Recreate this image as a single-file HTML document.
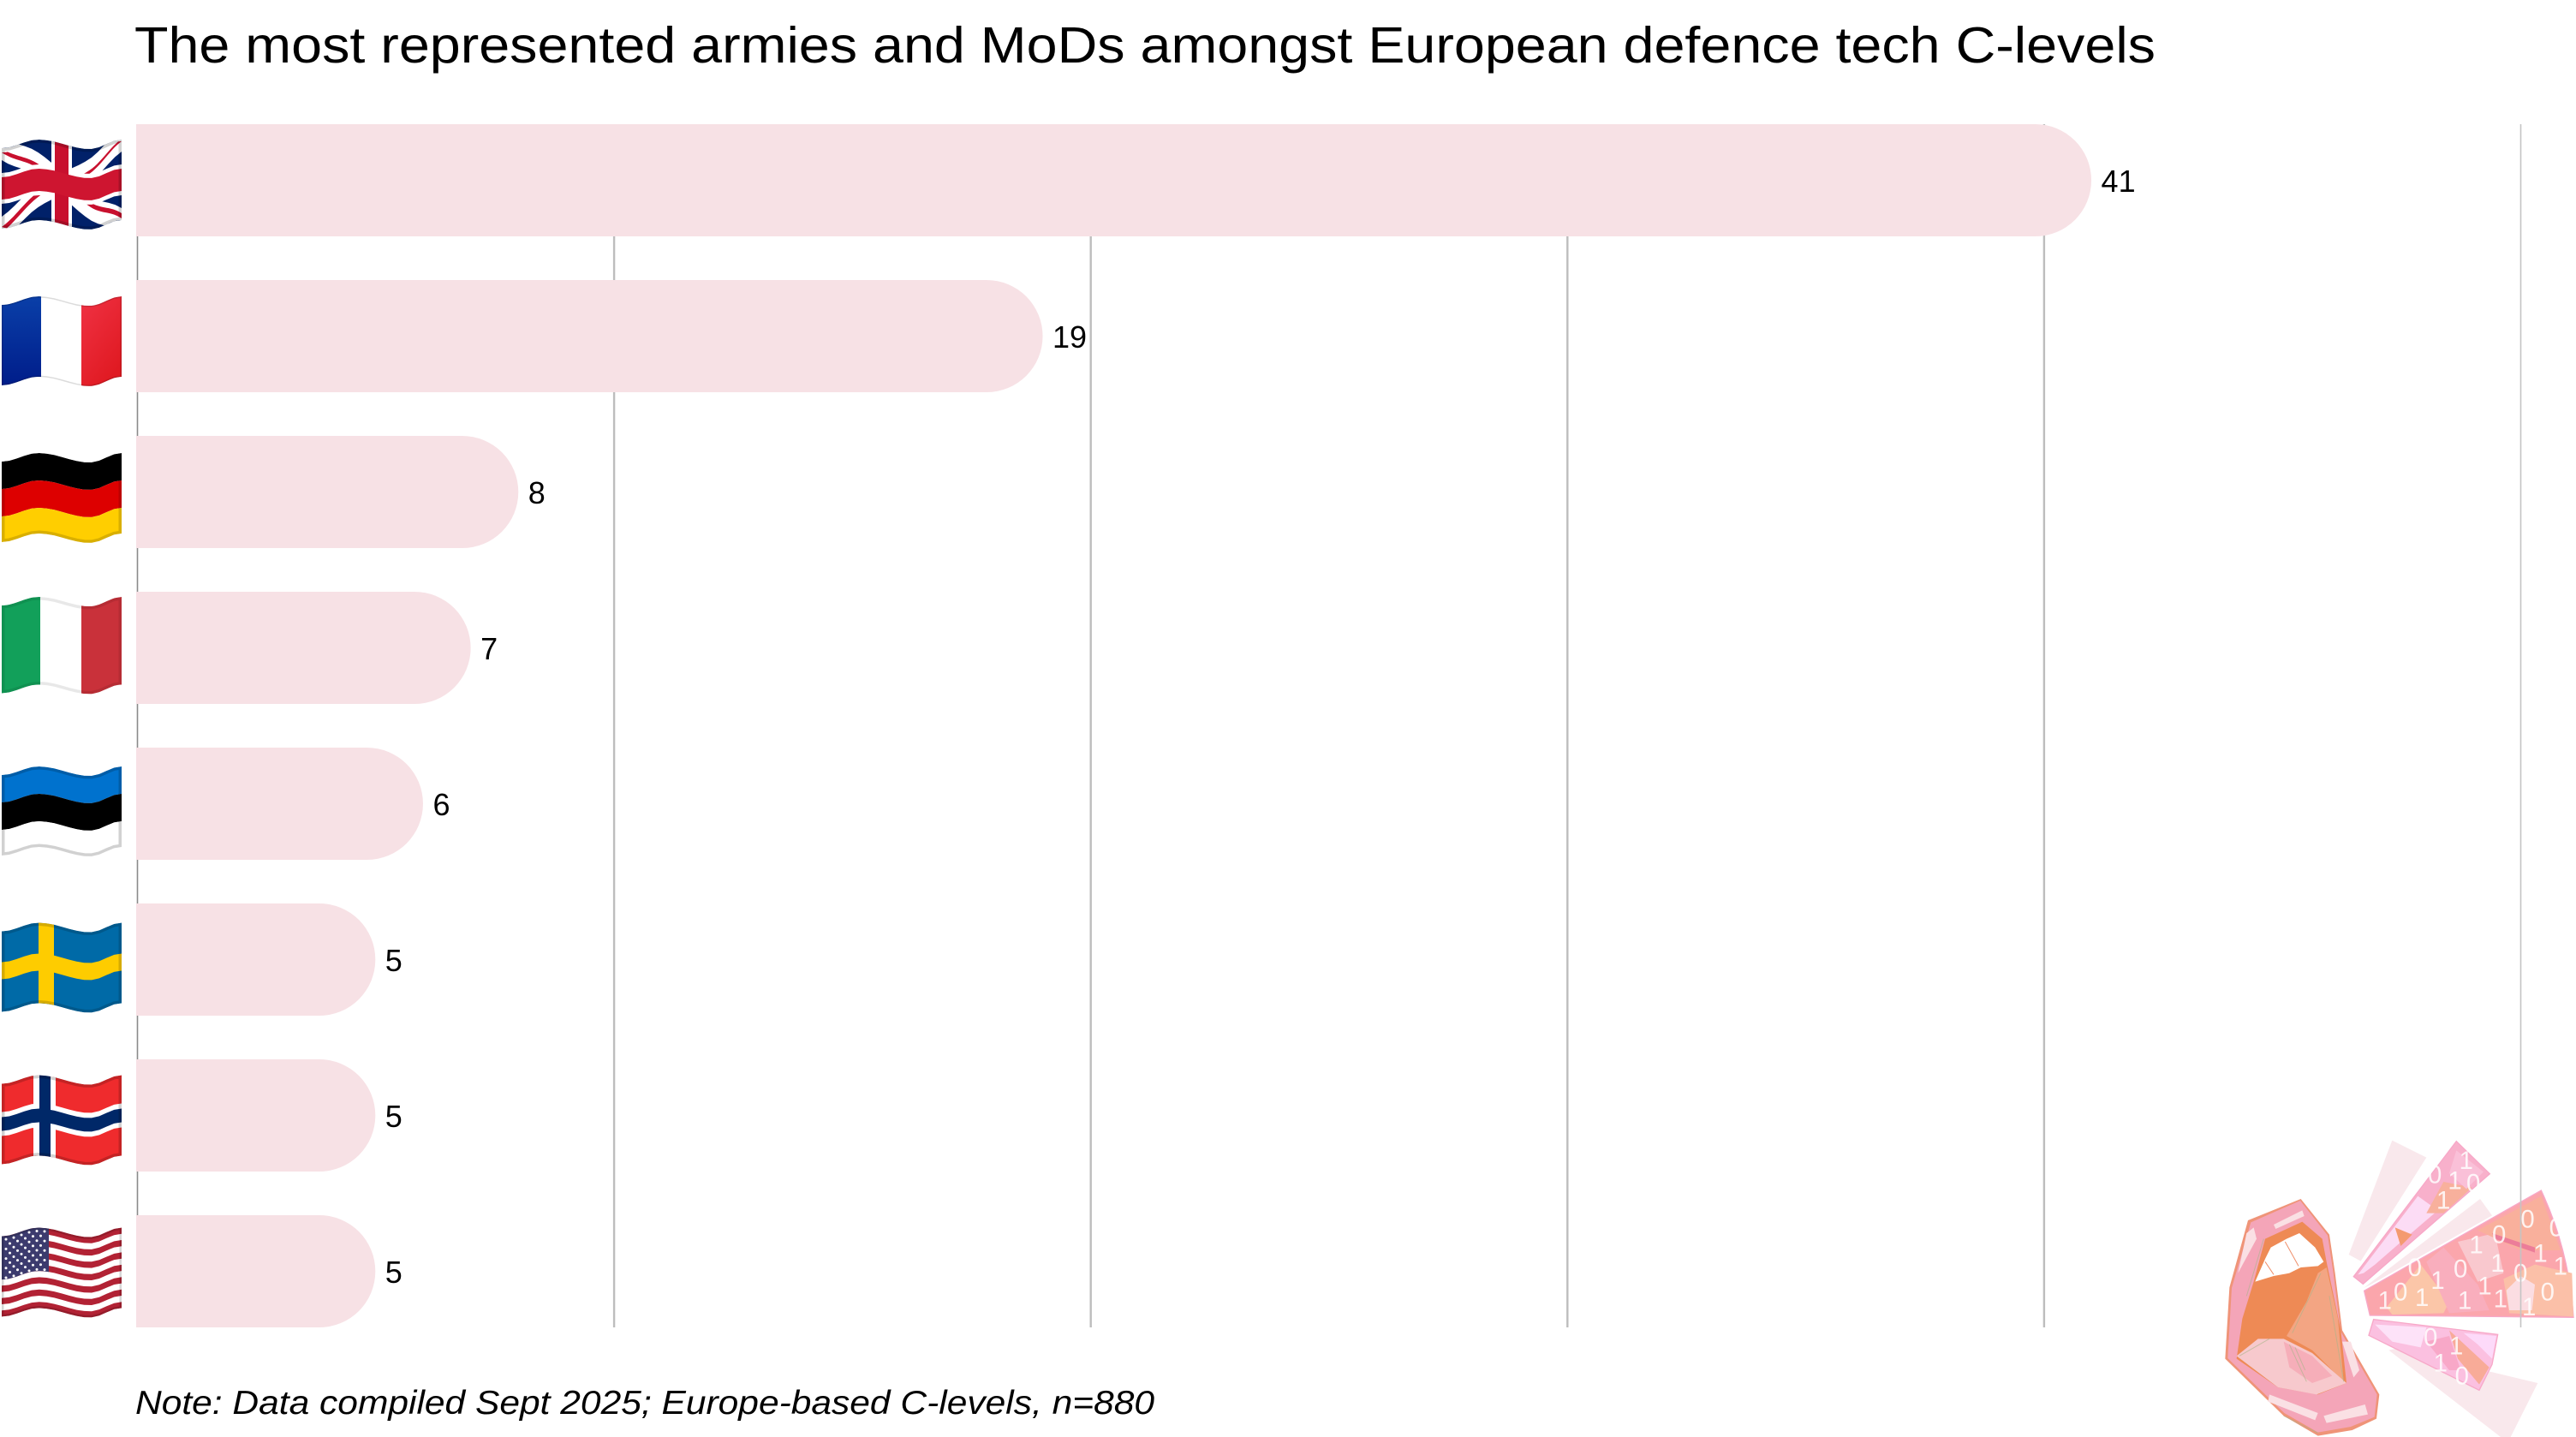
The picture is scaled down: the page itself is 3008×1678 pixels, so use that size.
<!DOCTYPE html>
<html lang="en">
<head>
<meta charset="utf-8">
<title>The most represented armies and MoDs amongst European defence tech C-levels</title>
<style>
html,body{margin:0;padding:0;background:#fff;}
svg{display:block;}
text{font-family:"Liberation Sans",sans-serif;fill:#000;}
</style>
</head>
<body>
<svg id="chart" xmlns="http://www.w3.org/2000/svg" width="3008" height="1678" viewBox="0 0 3008 1678">
  <rect width="3008" height="1678" fill="#fff"/>
  <defs>
    <linearGradient id="fr-blue" x1="0" y1="0" x2="0" y2="1"><stop offset="0" stop-color="#0a3fa8"/><stop offset="1" stop-color="#001d8a"/></linearGradient>
    <linearGradient id="fr-red" x1="0" y1="0" x2="0.6" y2="1"><stop offset="0" stop-color="#f03244"/><stop offset="1" stop-color="#e01a22"/></linearGradient>
  </defs>

  <g id="mascot" transform="translate(2560 1300) scale(0.33333)">
    <g fill="#f9e8ec">
      <polygon points="700,95 820,155 590,518 548,495"/>
      <polygon points="1008,300 1050,358 625,600 600,612"/>
      <polygon points="688,830 710,825 1210,945 1115,1134 1080,1134"/>
    </g>
    <g>
      <polygon points="925,98 1042,212 598,598 565,572" fill="#f8b0cb" stroke="#f7a8c8" stroke-width="4"/>
      <polygon points="790,290 860,340 720,460 640,530 600,560 580,565" fill="#fcdcf5"/>
      <polygon points="880,240 980,260 880,350 820,350" fill="#f8b09c"/>
      <polygon points="925,130 1020,205 960,265 900,210" fill="#fac0d8"/>
      <polygon points="710,400 770,425 730,465" fill="#f49a70"/>
    </g>
    <g>
      <path d="M1222,270 Q1320,480 1335,715 L622,708 L602,622 Z" fill="#fba6ac" stroke="#f7a8c8" stroke-width="4"/>
      <polygon points="680,680 800,530 900,660 880,700 700,705" fill="#fbc6a8"/>
      <polygon points="820,520 880,470 1000,600 1040,690 900,700" fill="#f9aebd"/>
      <polygon points="930,450 1060,420 1090,560 1000,590" fill="#f9c8ce"/>
      <polygon points="1000,410 1222,290 1290,480 1150,480" fill="#f9b09c"/>
      <polygon points="1090,580 1200,530 1330,560 1335,712 1110,700" fill="#fbc0a8"/>
      <polygon points="1100,620 1150,570 1200,600 1190,690 1110,690" fill="#fbdde2"/>
      <polygon points="1050,420 1200,470 1200,488 1060,440" fill="#ec7d99"/>
    </g>
    <g>
      <polygon points="635,722 1070,775 1050,880 1005,970 618,778" fill="#fbc0e0" stroke="#f7a8c8" stroke-width="4"/>
      <polygon points="640,740 820,750 800,820 700,800" fill="#fde2f8"/>
      <polygon points="950,770 1065,780 1050,860 1000,810" fill="#fddaf9"/>
      <polygon points="820,800 900,780 940,900 900,900" fill="#f8a8c8"/>
      <polygon points="900,760 1040,890 1005,950 930,860" fill="#f8ab98"/>
    </g>
    <g font-size="88" style="opacity:.85">
      <text x="935" y="195" style="fill:#fff">1</text>
      <text x="825" y="245" style="fill:#fff">0</text>
      <text x="895" y="265" style="fill:#fff">1</text>
      <text x="960" y="275" style="fill:#fff">0</text>
      <text x="855" y="335" style="fill:#fff">1</text>
      <text x="1150" y="400" style="fill:#fff">0</text>
      <text x="1250" y="430" style="fill:#fff">0</text>
      <text x="1050" y="455" style="fill:#fff">0</text>
      <text x="970" y="490" style="fill:#fff">1</text>
      <text x="1195" y="520" style="fill:#fff">1</text>
      <text x="1045" y="555" style="fill:#fff">1</text>
      <text x="1265" y="565" style="fill:#fff">1</text>
      <text x="915" y="575" style="fill:#fff">0</text>
      <text x="755" y="570" style="fill:#fff">0</text>
      <text x="1125" y="590" style="fill:#fff">0</text>
      <text x="835" y="615" style="fill:#fff">1</text>
      <text x="1000" y="635" style="fill:#fff">1</text>
      <text x="1220" y="655" style="fill:#fff">0</text>
      <text x="705" y="655" style="fill:#fff">0</text>
      <text x="780" y="675" style="fill:#fff">1</text>
      <text x="930" y="685" style="fill:#fff">1</text>
      <text x="1055" y="680" style="fill:#fff">1</text>
      <text x="650" y="685" style="fill:#fff">1</text>
      <text x="1155" y="708" style="fill:#fff">1</text>
      <text x="810" y="815" style="fill:#fff">0</text>
      <text x="900" y="845" style="fill:#fff">1</text>
      <text x="845" y="905" style="fill:#fff">1</text>
      <text x="920" y="950" style="fill:#fff">0</text>
    </g>
    <g>
      <polygon points="195,375 380,300 480,425 500,560 525,760 655,985 645,1070 560,1110 440,1130 320,1060 115,860 130,610" fill="#ef9478"/>
      <polygon points="205,382 378,306 474,428 494,560 520,765 647,985 638,1064 555,1098 440,1118 322,1050 124,858 138,612" fill="#f4a5b8"/>
      <polygon points="255,440 385,380 455,440 470,520 520,760 540,945 440,985 300,960 155,860 175,720 215,590" fill="#ee8a55"/>
      <polygon points="440,560 470,540 510,720 530,940 420,830 330,780 400,660" fill="#f3a583"/>
      <polygon points="220,590 255,510 275,470 330,440 375,420 430,470 460,520 440,535 380,540 340,560 285,570" fill="#fff"/>
      <polyline points="325,450 372,535" fill="none" stroke="#ef8f6b" stroke-width="3"/>
      <polyline points="255,520 285,565" fill="none" stroke="#ef8f6b" stroke-width="3"/>
      <polygon points="155,850 230,790 320,790 420,840 540,945 435,985 300,960" fill="#f7c9cd"/>
      <polygon points="320,800 420,850 490,920 420,945 340,890" fill="#f6aeb9"/>
      <g fill="#fae0e4">
        <polygon points="285,390 385,340 392,360 292,405"/>
        <polygon points="270,985 440,1050 430,1075 265,1010"/>
        <polygon points="460,1060 605,1020 615,1055 470,1085"/>
        <polygon points="525,800 555,800 585,900 565,925"/>
        <polygon points="190,420 215,400 225,440 160,560"/>
      </g>
      <g stroke="#a9b48a" stroke-width="3" fill="none" opacity=".6">
        <line x1="165" y1="850" x2="270" y2="790"/>
        <line x1="190" y1="640" x2="250" y2="440"/>
        <line x1="340" y1="810" x2="400" y2="940"/>
        <line x1="360" y1="820" x2="395" y2="900"/>
        <line x1="450" y1="560" x2="350" y2="770"/>
        <line x1="480" y1="640" x2="530" y2="940"/>
        <line x1="320" y1="1060" x2="440" y2="1120"/>
      </g>
    </g>
  </g>

  <g id="grid"></g>
  <g id="bars"></g>
  <g id="labels"></g>
  <g id="flags"></g>

  <text x="157" y="73" font-size="59" textLength="2360" lengthAdjust="spacingAndGlyphs">The most represented armies and MoDs amongst European defence tech C-levels</text>
  <text x="158" y="1651" font-size="39" font-style="italic" textLength="1190" lengthAdjust="spacingAndGlyphs">Note: Data compiled Sept 2025; Europe-based C-levels, n=880</text>
</svg>
<script>
const categories = ["UK", "France", "Germany", "Italy", "Estonia", "Sweden", "Norway", "USA"];
const values = [41, 19, 8, 7, 6, 5, 5, 5];
const tickValues = [0, 10, 20, 30, 40, 50];

const NS = "http://www.w3.org/2000/svg";
const plot = { left: 160, right: 2943, top: 145, bottom: 1550 };
const domainMax = 50;
const bandHeight = 131;

function xScale(v) {
  return plot.left + (v / domainMax) * (plot.right - plot.left);
}
function bandTop(i) {
  const step = (plot.bottom - plot.top - bandHeight) / (categories.length - 1);
  return plot.top + i * step;
}
function make(tag, attrs, parent) {
  const el = document.createElementNS(NS, tag);
  for (const k in attrs) el.setAttribute(k, attrs[k]);
  if (parent) parent.appendChild(el);
  return el;
}

/* ---------- gridlines ---------- */
const gridG = document.getElementById("grid");
tickValues.forEach(function (t) {
  const x = xScale(t);
  const styleFor = t === 0 ? ["#8a8a8a", 1.6] : (t === domainMax ? ["#c4c4c4", 1.6] : ["#bdbdbd", 2.4]);
  const line = make("line", { x1: x + 0.5, x2: x + 0.5, y1: plot.top, y2: plot.bottom, stroke: styleFor[0], "stroke-width": styleFor[1] }, gridG);
  
  
});

/* ---------- bars and labels ---------- */
const barsG = document.getElementById("bars");
const labelsG = document.getElementById("labels");
categories.forEach(function (cat, i) {
  const y = bandTop(i);
  const x1 = xScale(values[i]);
  const r = bandHeight / 2;
  const bar = make("path", { d: "M" + (plot.left - 1) + "," + y + " H" + (x1 - r) +
    " A" + r + " " + r + " 0 0 1 " + (x1 - r) + "," + (y + bandHeight) +
    " H" + (plot.left - 1) + " Z", fill: "#f7e1e5" }, barsG);
  
  

  const label = make("text", { x: x1 + 11.5, y: y + bandHeight / 2 + 13.5, "font-size": 36 }, labelsG);
  label.textContent = String(values[i]);
  
  
});

/* ---------- waving flags (local space 140 x 94) ---------- */
function wave(x) {
  if (x < 43) return 5 + 5 * Math.cos(Math.PI * x / 43);
  if (x < 103) return 5.5 - 5.5 * Math.cos(Math.PI * (x - 43) / 60);
  return 5.5 + 5.5 * Math.cos(Math.PI * (x - 103) / 37);
}
function warpPoly(pts, ox, oy, hScale) {
  const out = [];
  for (let i = 0; i < pts.length; i++) {
    const a = pts[i], b = pts[(i + 1) % pts.length];
    const n = 16;
    for (let k = 0; k < n; k++) {
      const x = a[0] + (b[0] - a[0]) * k / n;
      const y = a[1] + (b[1] - a[1]) * k / n;
      out.push((ox + x).toFixed(1) + "," + (oy + wave(x) + y * hScale).toFixed(1));
    }
  }
  return out.join(" ");
}
const R = function (x, y, w, h) { return [[x, y], [x + w, y], [x + w, y + h], [x, y + h]]; };

function flagShapes(cat) {
  const s = [];
  const add = function (pts, fill) { s.push([pts, fill]); };
  if (cat === "UK") {
    add(R(0, 0, 140, 94), "#012169");
    add([[0, 0], [20, 0], [140, 80], [140, 94], [120, 94], [0, 14]], "#fff");
    add([[120, 0], [140, 0], [140, 14], [20, 94], [0, 94], [0, 80]], "#fff");
    add([[0, 5], [7, 5], [48, 32], [40, 32]], "#c8102e");
    add([[92, 32], [136, 2], [140, 2], [98, 32]], "#c8102e");
    add([[44, 60], [52, 60], [6, 94], [0, 92]], "#c8102e");
    add([[92, 60], [100, 60], [140, 86], [140, 92]], "#c8102e");
    add(R(58, 0, 24, 94), "#fff");
    add(R(0, 29, 140, 36), "#fff");
    add(R(62, 0, 16, 94), "#c8102e");
    add(R(0, 34, 140, 26), "#ce1530");
  } else if (cat === "France") {
    add(R(0, 0, 46, 94), "url(#fr-blue)");
    add(R(46, 0, 48, 94), "#fff");
    add(R(93, 0, 47, 94), "url(#fr-red)");
  } else if (cat === "Germany") {
    add(R(0, 0, 140, 32), "#000");
    add(R(0, 32, 140, 32), "#dd0000");
    add(R(0, 64, 140, 30), "#ffce00");
  } else if (cat === "Italy") {
    add(R(0, 0, 46, 94), "#12a05a");
    add(R(45, 0, 49, 94), "#fff");
    add(R(93, 0, 47, 94), "#c9313a");
  } else if (cat === "Estonia") {
    add(R(0, 0, 140, 32), "#0072ce");
    add(R(0, 32, 140, 32), "#000");
    add(R(0, 64, 140, 30), "#fff");
  } else if (cat === "Sweden") {
    add(R(0, 0, 140, 94), "#006aa7");
    add(R(43, 0, 18, 94), "#fecc00");
    add(R(0, 36, 140, 20), "#fecc00");
  } else if (cat === "Norway") {
    add(R(0, 0, 140, 94), "#ef2b2d");
    add(R(37, 0, 26, 94), "#fff");
    add(R(0, 33, 140, 28), "#fff");
    add(R(44, 0, 13, 94), "#002868");
    add(R(0, 39, 140, 16), "#002868");
  } else if (cat === "USA") {
    add(R(0, 0, 140, 94), "#fff");
    for (let k = 0; k < 7; k++) add(R(0, k * 2 * (94 / 13), 140, 94 / 13), "#b22234");
    add(R(0, 0, 55, 94 * 7 / 13), "#3c3b6e");
  }
  return s;
}
/* per-flag placement relative to the bar's vertical centre */
const flagPlacement = {
  UK: { dy: -47.5, hs: 1 }, France: { dy: -46.5, hs: 1 }, Germany: { dy: -45.5, hs: 1 },
  Italy: { dy: -59.5, hs: 1.09 }, Estonia: { dy: -43.5, hs: 1 }, Sweden: { dy: -43, hs: 1 },
  Norway: { dy: -47, hs: 1 }, USA: { dy: -51, hs: 1 }
};
const edgeAlpha = { UK: [0.18, 7], France: [0.14, 3], Germany: [0.15, 7], Italy: [0.09, 7], Estonia: [0.18, 7], Sweden: [0.16, 7], Norway: [0.18, 7], USA: [0.16, 5] };

const flagsG = document.getElementById("flags");
const defs = document.querySelector("defs");
categories.forEach(function (cat, i) {
  const p = flagPlacement[cat];
  const ox = 2;
  const oy = bandTop(i) + bandHeight / 2 + p.dy;
  const g = make("g", {}, flagsG);
  
  
  const outline = warpPoly(R(0, 0, 140, 94), ox, oy, p.hs);
  const clip = make("clipPath", { id: "clip-" + i }, defs);
  make("polygon", { points: outline }, clip);
  const inner = make("g", { "clip-path": "url(#clip-" + i + ")" }, g);
  flagShapes(cat).forEach(function (sh) {
    make("polygon", { points: warpPoly(sh[0], ox, oy, p.hs), fill: sh[1] }, inner);
  });
  if (cat === "USA") {
    for (let r = 0; r < 9; r++) {
      const n = r % 2 === 0 ? 6 : 5;
      for (let c = 0; c < n; c++) {
        const sx = (r % 2 === 0 ? 5 : 9.5) + c * 9;
        const sy = 4 + r * 5.6;
        make("circle", { cx: ox + sx, cy: oy + wave(sx) + sy, r: 1.5, fill: "#fff" }, inner);
      }
    }
  }
  make("polygon", { points: outline, fill: "none", stroke: "rgba(0,0,0," + edgeAlpha[cat][0] + ")", "stroke-width": edgeAlpha[cat][1] }, inner);
});
</script>
</body>
</html>
